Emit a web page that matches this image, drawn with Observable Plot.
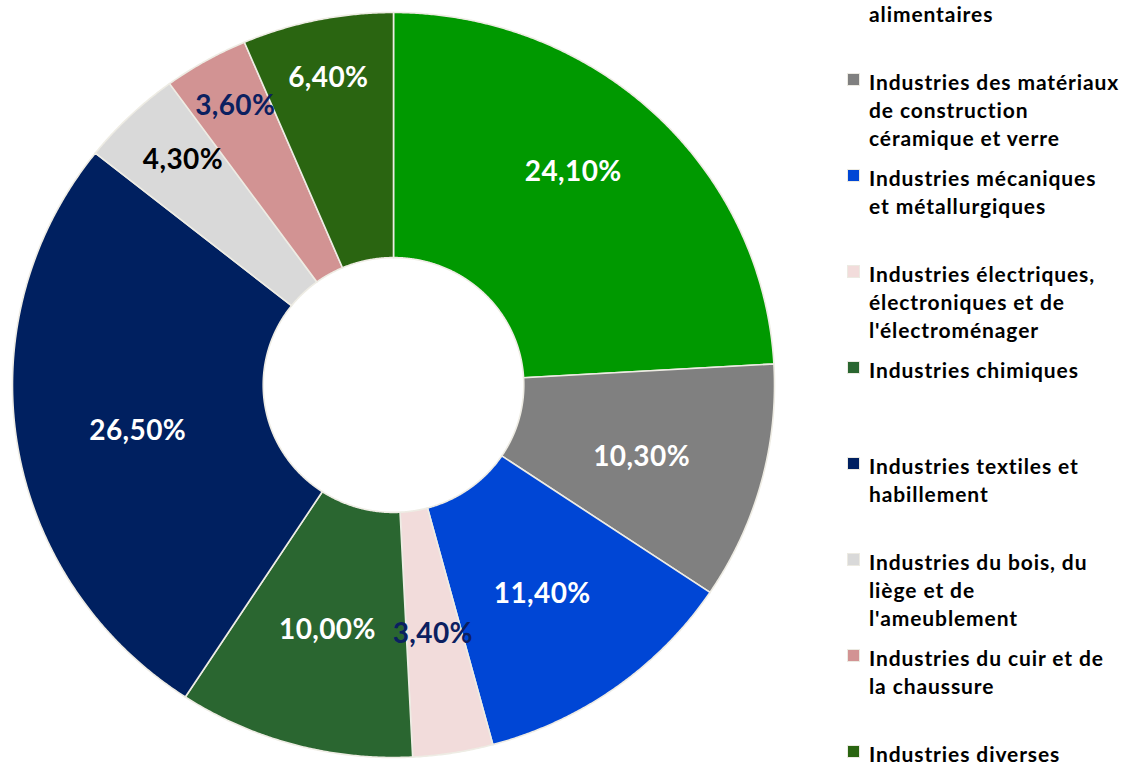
<!DOCTYPE html>
<html><head><meta charset="utf-8">
<script src="https://cdn.jsdelivr.net/npm/d3@7"></script>
<script src="https://cdn.jsdelivr.net/npm/@observablehq/plot@0.6"></script>
<style>
body{margin:0;background:#fff;font-family:Lato,sans-serif;}
#wrap{position:relative;width:1123px;height:764px;overflow:hidden;}
#chart{position:absolute;left:0;top:0;}
#legend{position:absolute;left:846px;top:0;}
.item{position:absolute;left:0;white-space:nowrap;font-weight:700;font-size:21px;line-height:28px;letter-spacing:0.9px;color:#000;}
.sw{position:absolute;left:1px;top:5px;width:11px;height:11px;border:1px solid #ECEAE2;}
.txt{position:absolute;left:23px;top:0;}
</style></head><body>
<div id="wrap"><div id="chart"></div><div id="legend"></div></div>
<script>
const categories = [
  "Industries agro-alimentaires",
  "Industries des matériaux de construction céramique et verre",
  "Industries mécaniques et métallurgiques",
  "Industries électriques, électroniques et de l'électroménager",
  "Industries chimiques",
  "Industries textiles et habillement",
  "Industries du bois, du liège et de l'ameublement",
  "Industries du cuir et de la chaussure",
  "Industries diverses"
];
const values = [24.1, 10.3, 11.4, 3.4, 10.0, 26.5, 4.3, 3.6, 6.4];
const valueLabels = ["24,10%", "10,30%", "11,40%", "3,40%", "10,00%", "26,50%", "4,30%", "3,60%", "6,40%"];
const legendLines = [
  ["Industries agro-", "alimentaires"],
  ["Industries des matériaux", "de construction", "céramique et verre"],
  ["Industries mécaniques", "et métallurgiques"],
  ["Industries électriques,", "électroniques et de", "l'électroménager"],
  ["Industries chimiques"],
  ["Industries textiles et", "habillement"],
  ["Industries du bois, du", "liège et de", "l'ameublement"],
  ["Industries du cuir et de", "la chaussure"],
  ["Industries diverses"]
];
const colors = ["#009900", "#808080", "#0046D5", "#F2DCDB", "#2A6630", "#002060", "#D9D9D9", "#D29393", "#2A6511"];

// styling (not data)
const labelColors = ["#fff","#fff","#fff","#0B2060","#fff","#fff","#000","#0B2060","#fff"];
const labelRadius = [0.753, 0.675, 0.67, 0.66, 0.665, 0.68, 0.83, 0.87, 0.857];
const labelNudgeDeg = [-4.6, 0, 0, 0, 0, 0, 2, 1, 0];
const inner = 0.342;

const arcs = d3.pie().sort(null).value(d => d)(values);
const points = [];
arcs.forEach((a, i) => {
  const n = Math.max(4, Math.ceil((a.endAngle - a.startAngle) / 0.005));
  for (let k = 0; k <= n; k++) {
    const t = a.startAngle + (a.endAngle - a.startAngle) * k / n;
    points.push({name: categories[i], x: Math.sin(t), y: Math.cos(t)});
  }
  for (let k = n; k >= 0; k--) {
    const t = a.startAngle + (a.endAngle - a.startAngle) * k / n;
    points.push({name: categories[i], x: inner * Math.sin(t), y: inner * Math.cos(t)});
  }
});
const labels = arcs.map((a, i) => {
  const m = (a.startAngle + a.endAngle) / 2 + labelNudgeDeg[i] * Math.PI / 180;
  return {text: valueLabels[i], x: labelRadius[i] * Math.sin(m), y: labelRadius[i] * Math.cos(m), c: labelColors[i]};
});
const textOpts = c => ({x: "x", y: "y", dy: 6, text: "text", fill: c, fontSize: 28, fontWeight: 700, fontFamily: "Lato", style: "letter-spacing:0.4px"});

const plot = Plot.plot({
  width: 800, height: 764, margin: 0,
  style: {background: "transparent", overflow: "visible"},
  x: {domain: [-1, 1], range: [12, 774], axis: null},
  y: {domain: [-1, 1], range: [757, 12], axis: null},
  color: {domain: categories, range: colors},
  marks: [
    Plot.line(points, {x: "x", y: "y", z: "name", fill: "name", stroke: "#EEECE4", strokeWidth: 1.6, curve: "linear-closed"}),
    Plot.text(labels.filter(d => d.c === "#fff"), textOpts("#fff")),
    Plot.text(labels.filter(d => d.c === "#0B2060"), textOpts("#0B2060")),
    Plot.text(labels.filter(d => d.c === "#000"), textOpts("#000"))
  ]
});
plot.querySelectorAll("text").forEach(t => t.style.letterSpacing = "0.4px");
document.getElementById("chart").appendChild(plot);

const legend = document.getElementById("legend");
legendLines.forEach((lines, i) => {
  const it = document.createElement("div");
  it.className = "item";
  it.style.top = (-28 + 96 * i) + "px";
  const sw = document.createElement("div");
  sw.className = "sw";
  sw.style.background = colors[i];
  const tx = document.createElement("div");
  tx.className = "txt";
  tx.innerHTML = lines.map(l => l.replace(/&/g, "&amp;").replace(/</g, "&lt;")).join("<br>");
  it.appendChild(sw); it.appendChild(tx);
  legend.appendChild(it);
});
</script>
</body></html>
